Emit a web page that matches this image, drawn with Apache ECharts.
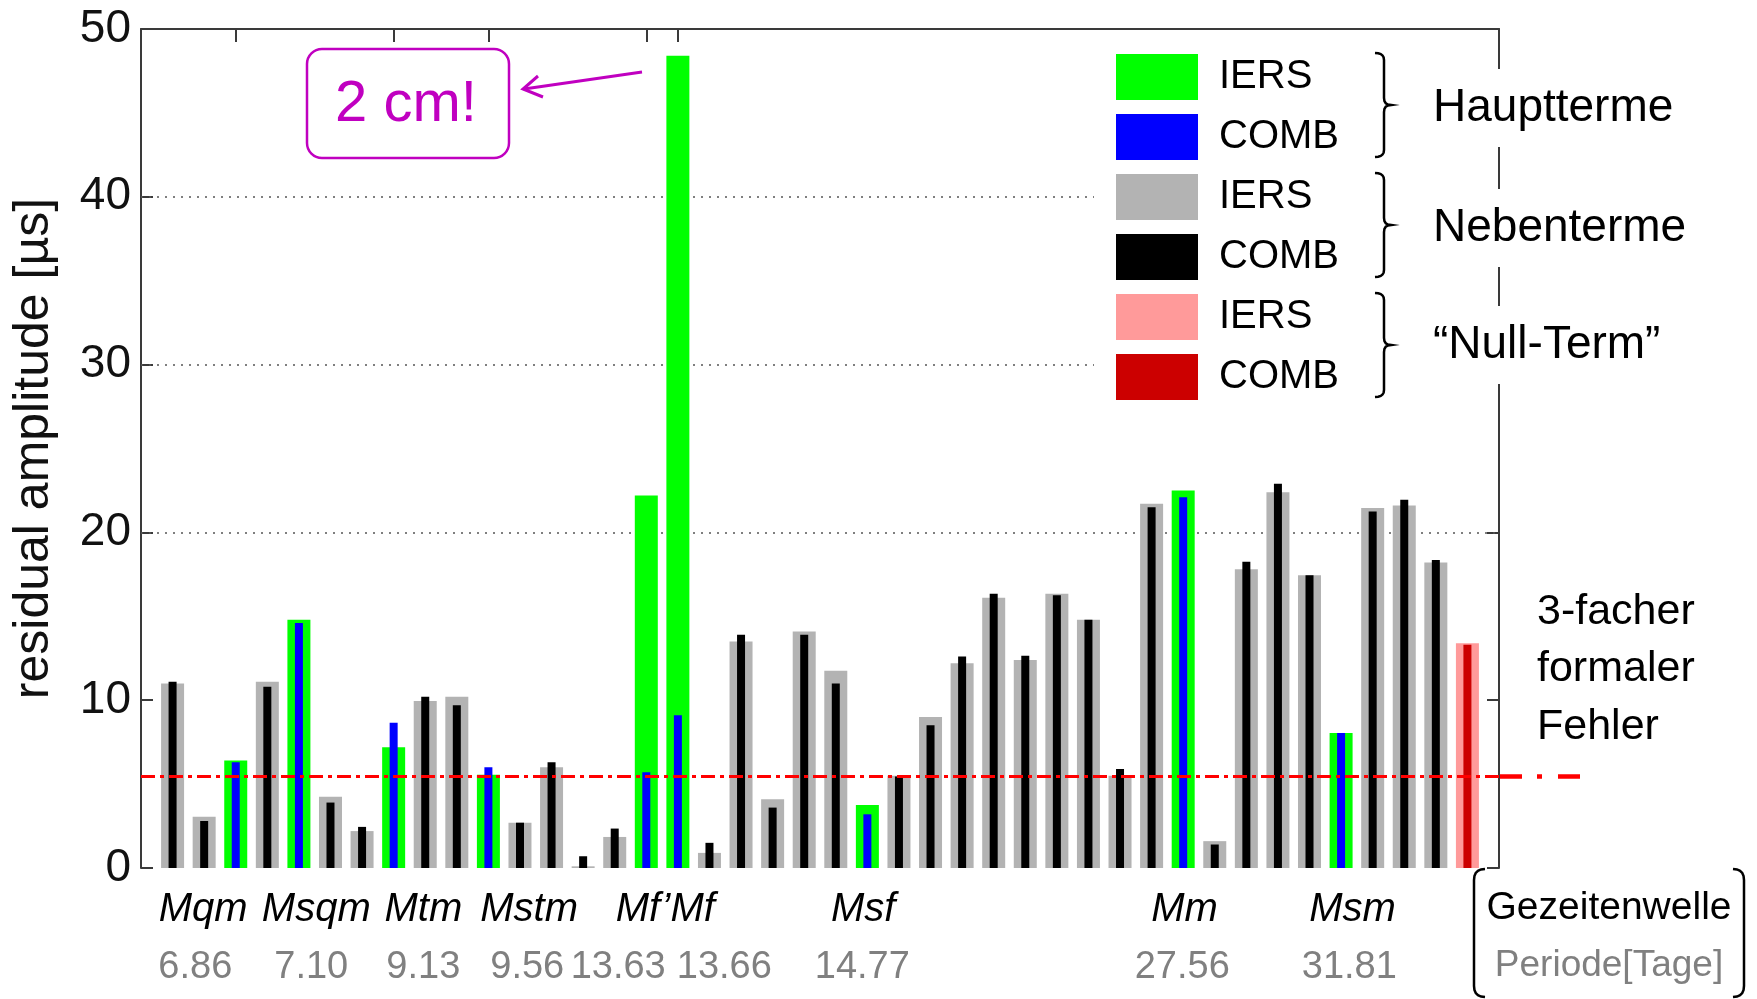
<!DOCTYPE html>
<html><head><meta charset="utf-8">
<script src="https://cdn.jsdelivr.net/npm/echarts@6/dist/echarts.min.js"></script>
<style>html,body{margin:0;padding:0;background:#fff}#c{width:1757px;height:999px}</style>
</head><body><div id="c"></div>
<script>
// ---------- data ----------
const positions = [1,2,3,4,5,6,7,8,9,10,11,12,13,14,15,16,17,18,19,20,21,22,23,24,25,26,27,28,29,30,31,32,33,34,35,36,37,38,39,40,41,42];
// H = Hauptterme, N = Nebenterme, Z = "Null-Term"
const termType = ['N','N','H','N','H','N','N','H','N','N','H','N','N','N','N','H','H','N','N','N','N','N','H','N','N','N','N','N','N','N','N','N','H','N','N','N','N','H','N','N','N','Z'];
const iersValues = [11.0,3.05,6.4,11.1,14.8,4.25,2.2,7.2,9.95,10.2,5.55,2.7,6.0,0.1,1.85,22.2,48.4,0.9,13.5,4.1,14.1,11.75,3.75,5.5,9.0,12.2,16.1,12.4,16.35,14.8,5.5,21.7,22.5,1.6,17.8,22.4,17.45,8.05,21.45,21.6,18.2,13.4];
const combValues = [11.1,2.8,6.3,10.8,14.6,3.9,2.45,8.65,10.2,9.7,6.0,2.7,6.3,0.7,2.35,5.7,9.1,1.5,13.9,3.6,13.9,11.0,3.2,5.45,8.5,12.6,16.35,12.65,16.25,14.8,5.9,21.5,22.1,1.4,18.25,22.9,17.45,8.05,21.25,21.95,18.35,13.3];
const tideNames = ['Mqm','Msqm','Mtm','Mstm','Mf\u2019Mf','Msf','Mm','Msm'];
const periodLabels = ['6.86','7.10','9.13','9.56','13.63','13.66','14.77','27.56','31.81'];
const groupNames = ['Hauptterme','Nebenterme','\u201cNull-Term\u201d'];
const legendNames = ['IERS','COMB','IERS','COMB','IERS','COMB'];
const yTicks = [0,10,20,30,40,50];
const gridLevels = [20,30,40];
const errorLevel = 5.45;
const mainTermTicks = [3,8,11,16,17];
const noteText = '2 cm!';
const errorText = ['3-facher','formaler','Fehler'];
const boxTexts = ['Gezeitenwelle','Periode[Tage]'];

// ---------- layout (axis units for text anchors) ----------
const tideNameAt = [1.97,5.55,8.94,12.29,16.6,22.87,33.04,38.36];
const periodAt = [1.72,5.39,8.94,12.23,15.11,18.47,22.84,32.97,38.26];

const FF = '"Liberation Sans", Arial, sans-serif';
const chart = echarts.init(document.getElementById('c'), null, {renderer:'canvas'});

function pick(type, arr){
  const out = [];
  positions.forEach((p,i)=>{ if(termType[i]===type) out.push([p, arr[i]]); });
  return out;
}
const seriesIds = ['IERS_H','COMB_H','IERS_N','COMB_N','IERS_Z','COMB_Z'];
const xBase = {type:'value', min:0, max:43, show:false, splitLine:{show:false}};
const xAxes = [0,1,2,3,4,5].map(()=>Object.assign({}, xBase));
xAxes.push({type:'value', min:0, max:43, position:'top',
  axisLine:{show:true, onZero:false, lineStyle:{color:'#3a3a3a', width:2}},
  axisTick:{show:true, inside:true, length:13, customValues: mainTermTicks, lineStyle:{color:'#3a3a3a', width:2}},
  axisLabel:{show:false}, splitLine:{show:false}});

const axisLineStyle = {color:'#3a3a3a', width:2};
function bar(id, axis, type, arr, width, color, z){
  return {id, name:id, type:'bar', xAxisIndex:axis, yAxisIndex:0, data:pick(type, arr),
    barWidth:width, itemStyle:{color}, z, silent:true, animation:false};
}
const series = [
  bar('IERS_H',0,'H',iersValues,23,'#00ff00',2),
  bar('COMB_H',1,'H',combValues,8,'#0000ff',3),
  bar('IERS_N',2,'N',iersValues,23,'#b3b3b3',2),
  bar('COMB_N',3,'N',combValues,8,'#000000',3),
  bar('IERS_Z',4,'Z',iersValues,23,'#ff9a9a',2),
  bar('COMB_Z',5,'Z',combValues,8,'#cc0000',4),
  {type:'line', name:'grid', xAxisIndex:0, yAxisIndex:0, data:[], z:1, silent:true, animation:false,
    markLine:{z:1, silent:true, symbol:'none', label:{show:false}, animation:false,
      lineStyle:{color:'#555', width:1.6, type:[2,6]},
      data: gridLevels.map(v=>({yAxis:v}))}}
];
series[5].markLine = {z:5, silent:true, symbol:'none', label:{show:false}, animation:false,
  lineStyle:{color:'#ff0000', width:3, type:[14,5,4,5]}, data:[{yAxis:errorLevel}]};

chart.setOption({
  animation:false,
  backgroundColor:'#fff',
  grid:{left:141, right:258, top:29, bottom:131, containLabel:false},
  xAxis: xAxes,
  yAxis:[
    {type:'value', min:0, max:50, interval:10, position:'left',
      axisLine:{show:true, onZero:false, lineStyle:axisLineStyle},
      axisTick:{show:true, inside:true, length:12, lineStyle:axisLineStyle},
      axisLabel:{fontSize:46, fontFamily:FF, color:'#111', margin:10,
        formatter: v => yTicks.includes(v) ? String(v) : ''},
      splitLine:{show:false},
      name:'residual amplitude [\u00b5s]', nameLocation:'middle', nameGap:82, nameRotate:90,
      nameTextStyle:{fontSize:50, fontFamily:FF, color:'#111'}},
    {type:'value', min:0, max:50, interval:10, position:'right',
      axisLine:{show:true, onZero:false, lineStyle:axisLineStyle},
      axisTick:{show:true, inside:true, length:12, lineStyle:axisLineStyle},
      axisLabel:{show:false}, splitLine:{show:false}}
  ],
  legend:{
    data: seriesIds, orient:'vertical', left:1094, top:44, icon:'rect', z:4,
    itemWidth:82, itemHeight:46, itemGap:14, selectedMode:false,
    formatter: n => legendNames[seriesIds.indexOf(n)],
    textStyle:{fontSize:40, lineHeight:40, fontFamily:FF, color:'#000', padding:[6,0,0,16]},
    backgroundColor:'#fff', padding:[10,150,10,22]
  },
  series
});

// ---------- decorations ----------
const px = v => chart.convertToPixel({xAxisIndex:0}, v);
const py = v => chart.convertToPixel({yAxisIndex:0}, v);
function quad(p0,p1,p2,n){
  const pts=[];
  for(let k=0;k<=n;k++){const t=k/n,a=(1-t)*(1-t),b=2*(1-t)*t,c=t*t;
    pts.push([a*p0[0]+b*p1[0]+c*p2[0], a*p0[1]+b*p1[1]+c*p2[1]]);}
  return pts;
}
function chain(){ let pts=[]; for(const seg of arguments){ pts = pts.length? pts.concat(seg.slice(1)) : seg.slice(); } return pts; }
const gfx = [];
tideNames.forEach((t,i)=>gfx.push({type:'text', z:10, x:px(tideNameAt[i]), y:910,
  style:{text:t, font:'italic 40px '+FF, fill:'#000', align:'center', verticalAlign:'middle'}}));
periodLabels.forEach((t,i)=>gfx.push({type:'text', z:10, x:px(periodAt[i]), y:968,
  style:{text:t, font:'38px '+FF, fill:'#808080', align:'center', verticalAlign:'middle'}}));
// braces + group labels
const braceMid = [105,225,345];
const labelMid = [108,228,345];
braceMid.forEach((m,i)=>{
  const pts = chain(
    quad([1375,m-52],[1384,m-52],[1384,m-45],5),
    [[1384,m-45],[1384,m-7]],
    quad([1384,m-7],[1384,m],[1391,m],4),
    quad([1391,m],[1384,m],[1384,m+7],4),
    [[1384,m+7],[1384,m+45]],
    quad([1384,m+45],[1384,m+52],[1375,m+52],5));
  gfx.push({type:'polyline', z:10, shape:{points:pts}, style:{stroke:'#000', lineWidth:2.5, fill:null}});
  gfx.push({type:'text', z:11, x:1429, y:labelMid[i], style:{text:groupNames[i], font:'46px '+FF, fill:'#000',
    align:'left', verticalAlign:'middle', backgroundColor:'#fff', padding:[16,6,16,4]}});
});
// annotation
gfx.push({type:'rect', z:10, shape:{x:307, y:49, width:202, height:109, r:15},
  style:{stroke:'#c000c0', lineWidth:2.5, fill:'#fff'}});
gfx.push({type:'text', z:11, x:406, y:105, style:{text:noteText, font:'500 58px '+FF, fill:'#c000c0', align:'center', verticalAlign:'middle'}});
gfx.push({type:'line', z:10, shape:{x1:642, y1:72, x2:524, y2:89}, style:{stroke:'#c000c0', lineWidth:3}});
gfx.push({type:'polyline', z:10, shape:{points:[[538,76],[523,89],[543,97]]}, style:{stroke:'#c000c0', lineWidth:3, fill:null}});
// error line continuation outside the axes
const ey = py(errorLevel);
gfx.push({type:'line', z:10, shape:{x1:1500, y1:ey, x2:1580, y2:ey}, style:{stroke:'#ff0000', lineWidth:4.5, lineDash:[22,15,5,16]}});
errorText.forEach((t,i)=>gfx.push({type:'text', z:10, x:1537, y:612+i*57.5,
  style:{text:t, font:'43px '+FF, fill:'#000', align:'left', verticalAlign:'middle'}}));
// bottom-right bracket box
const lb = chain(quad([1485,869],[1474,869],[1474,880],5), [[1474,880],[1474,986]], quad([1474,986],[1474,997],[1485,997],5));
const rb = chain(quad([1733,869],[1744,869],[1744,880],5), [[1744,880],[1744,986]], quad([1744,986],[1744,997],[1733,997],5));
gfx.push({type:'polyline', z:10, shape:{points:lb}, style:{stroke:'#000', lineWidth:2.5, fill:null}});
gfx.push({type:'polyline', z:10, shape:{points:rb}, style:{stroke:'#000', lineWidth:2.5, fill:null}});
gfx.push({type:'text', z:10, x:1609, y:908, style:{text:boxTexts[0], font:'39px '+FF, fill:'#000', align:'center', verticalAlign:'middle'}});
gfx.push({type:'text', z:10, x:1609, y:966, style:{text:boxTexts[1], font:'37px '+FF, fill:'#808080', align:'center', verticalAlign:'middle'}});
chart.setOption({graphic: gfx});
</script></body></html>
